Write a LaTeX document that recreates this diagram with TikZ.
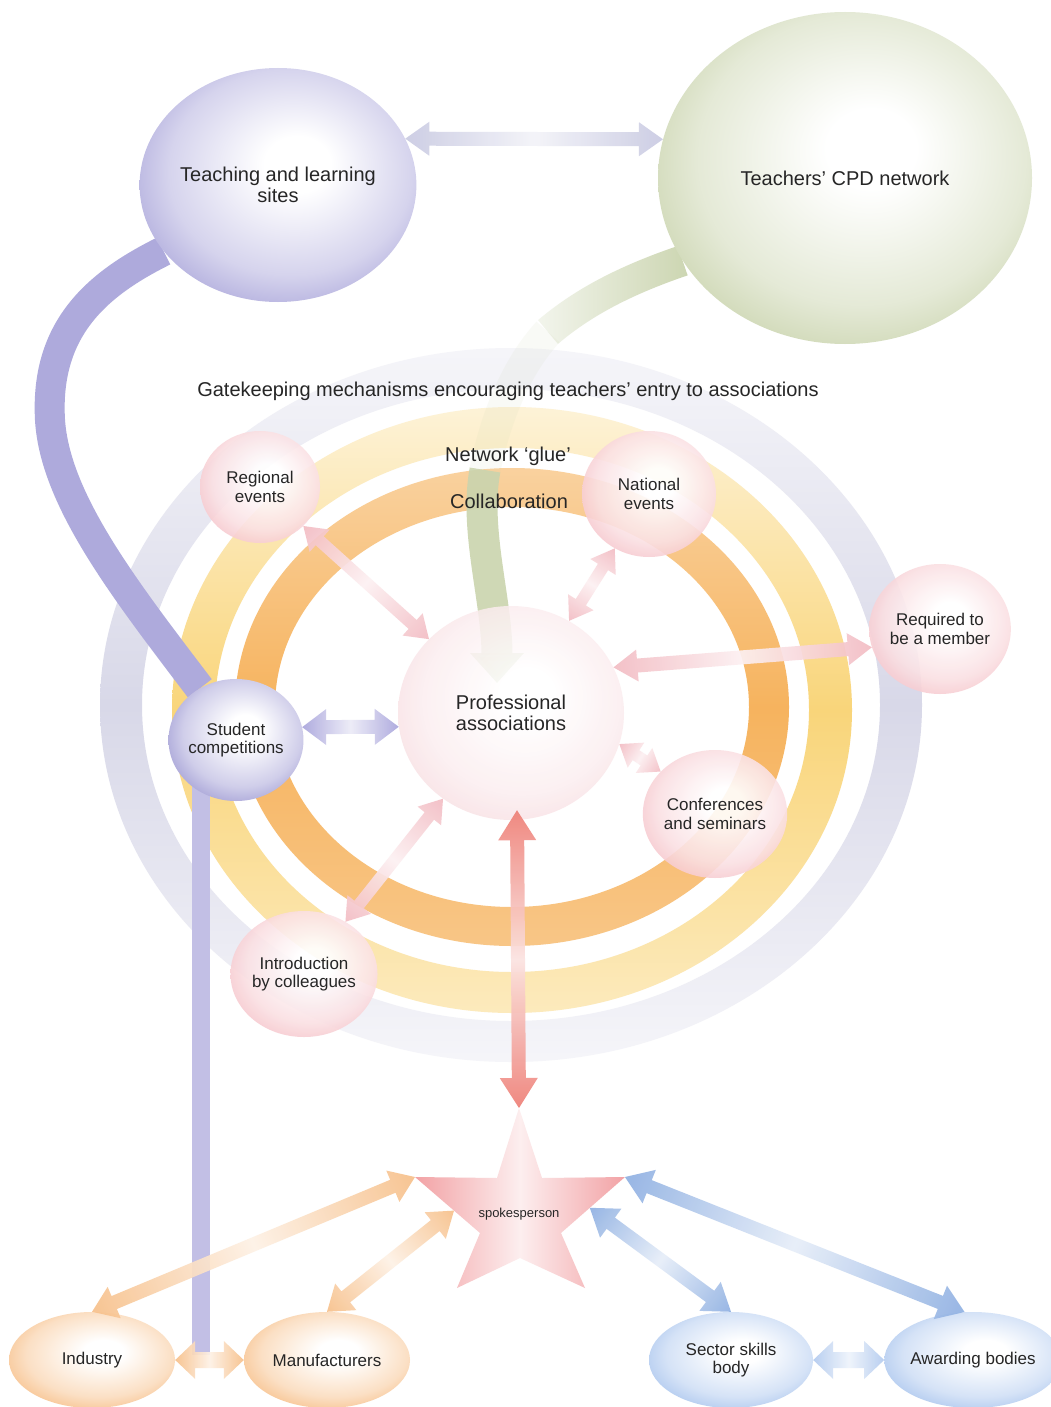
\documentclass[tikz,border=0pt]{standalone}
\usepackage{fontspec}
\setmainfont{Liberation Sans}
\usetikzlibrary{shapes.geometric,calc,arrows.meta,fadings}

\definecolor{ink}{HTML}{262626}
\definecolor{lav}{HTML}{ACA8DB}
\definecolor{lavdeep}{HTML}{A09CD4}
\definecolor{lavtube}{HTML}{AEAADC}
\definecolor{sage}{HTML}{CAD4AE}
\definecolor{pinkn}{HTML}{F6C2C8}
\definecolor{palep}{HTML}{F8DCE0}
\definecolor{peach}{HTML}{F7C08A}
\definecolor{skyb}{HTML}{ABC6EE}
\definecolor{salmon}{HTML}{EE7F76}
\definecolor{starpink}{HTML}{F2A2A5}
\definecolor{ringgrey}{HTML}{D8D8E8}
\definecolor{ringyel}{HTML}{F9D57A}
\definecolor{ringorg}{HTML}{F6B35E}
\definecolor{pinkarr}{HTML}{F3BCC3}
\definecolor{lavarr}{HTML}{A9A5DC}
\definecolor{greyarr}{HTML}{C9CAE2}
\definecolor{bluearr}{HTML}{8FB0E2}
\definecolor{paleblue}{HTML}{B3CBEF}

\pgfdeclarelayer{rings}
\pgfdeclarelayer{tubes}
\pgfsetlayers{rings,tubes,main}

% soft bubble shading, brightest a little up and to the right
\colorlet{bubcol}{white}
\pgfdeclareradialshading[bubcol]{bubble}{\pgfpoint{4bp}{5bp}}{%
  color(0bp)=(white); color(6bp)=(white); color(22bp)=(bubcol!50!white);
  color(31bp)=(bubcol); color(50bp)=(bubcol)}

\tikzfading[name=fadeleft, left color=transparent!80, right color=transparent!0]

% double-headed block arrow between two named points
% #1 start, #2 end, #3 colour, #4 half shaft, #5 half head, #6 head length
\newcommand\fatarrow[6]{%
  \path let \p1=(#1), \p2=(#2) in \pgfextra{%
    \pgfmathsetmacro\arrlen{veclen(\x2-\x1,\y2-\y1)}%
    \pgfmathsetmacro\arrang{atan2(\y2-\y1,\x2-\x1)}%
    \xdef\arrlen{\arrlen}\xdef\arrang{\arrang}};
  \begin{scope}[transform canvas={shift={(#1)},rotate=\arrang}]
    \shade[left color=#3, right color=#3, middle color=#3!22!white, fill opacity=0.92]
      (0,0) -- (#6,#5) -- (#6,#4) -- (\arrlen-#6,#4) -- (\arrlen-#6,#5) -- (\arrlen,0)
      -- (\arrlen-#6,-#5) -- (\arrlen-#6,-#4) -- (#6,-#4) -- (#6,-#5) -- cycle;
  \end{scope}}

\begin{document}
\begin{tikzpicture}[x=1pt,y=-1pt,
  bigtxt/.style={font=\fontsize{20}{21.5}\selectfont},
  smalltxt/.style={font=\fontsize{17}{18.5}\selectfont},
  bubcolor/.code={\colorlet{bubcol}{#1}},
  bub/.style={ellipse, inner sep=0pt, align=center, text=ink, shade, shading=bubble, bubcolor=#1},
  lbl/.style={inner sep=0pt, text=ink, bigtxt},
]
\useasboundingbox (0,0) rectangle (1051,1407);

% ---- nodes ----
\node[bub=lav, minimum width=260pt, minimum height=234pt, bigtxt] (teach) at (278,185) {Teaching and learning\\sites};
\node[bub=sage, minimum width=374pt, minimum height=332pt, bigtxt] (cpd) at (845,178) {Teachers’ CPD network};

\node[bub=pinkn, minimum width=120pt, minimum height=112pt, smalltxt, fill opacity=0.9, text opacity=1] (reg) at (260,487) {Regional\\events};
\node[bub=pinkn, minimum width=134pt, minimum height=126pt, smalltxt, fill opacity=0.9, text opacity=1] (nat) at (649,494) {National\\events};
\node[bub=palep, minimum width=226pt, minimum height=214pt, bigtxt, fill opacity=0.85, text opacity=1] (pa) at (511,713) {Professional\\associations};
\node[bub=pinkn, minimum width=136pt, minimum height=130pt, smalltxt, fill opacity=0.9, text opacity=1] (req) at (940,629) {Required to\\be a member};
\node[bub=pinkn, minimum width=132pt, minimum height=128pt, smalltxt, fill opacity=0.9, text opacity=1] (conf) at (715,814) {Conferences\\and seminars};
\node[bub=pinkn, minimum width=136pt, minimum height=126pt, smalltxt, fill opacity=0.9, text opacity=1] (intro) at (304,974) {Introduction\\by colleagues};
\node[bub=lavdeep, minimum width=134pt, minimum height=122pt, smalltxt] (stud) at (236,740) {Student\\competitions};

\node[bub=peach, minimum width=166pt, minimum height=96pt, smalltxt] (ind) at (92,1360) {Industry};
\node[bub=peach, minimum width=166pt, minimum height=96pt, smalltxt] (man) at (327,1360) {Manufacturers};
\node[bub=skyb, minimum width=164pt, minimum height=96pt, smalltxt] (sec) at (731,1360) {Sector skills\\body};
\node[bub=skyb, minimum width=164pt, minimum height=96pt, smalltxt] (awd) at (973,1360) {Awarding bodies};

% ---- spokesperson star ----
\coordinate (st1) at (519,1108);
\coordinate (st2) at (542,1178);
\coordinate (st3) at (625,1177);
\coordinate (st4) at (561,1233);
\coordinate (st5) at (585,1288);
\coordinate (st6) at (520,1258);
\coordinate (st7) at (457,1288);
\coordinate (st8) at (480,1233);
\coordinate (st9) at (415,1177);
\coordinate (st10) at (497,1178);
\shade[left color=starpink, right color=starpink, middle color=starpink!18!white]
  (st1) -- (st2) -- (st3) -- (st4) -- (st5) -- (st6) -- (st7) -- (st8) -- (st9) -- (st10) -- cycle;
\node[inner sep=0pt, text=ink, font=\fontsize{13}{14}\selectfont] (spk) at (519,1214) {spokesperson};

% ---- free labels ----
\node[lbl] (gate) at (508,391) {Gatekeeping mechanisms encouraging teachers’ entry to associations};
\node[lbl] (glue) at (508,456) {Network ‘glue’};
\node[lbl] (collab) at (509,501) {Collaboration};

% ---- rings ----
\begin{pgfonlayer}{rings}
  \fill[white] (0,0) rectangle (1051,1407);
  \shade[even odd rule, top color=ringgrey!25!white, bottom color=ringgrey!25!white, middle color=ringgrey]
    (511,705) ellipse [x radius=411pt, y radius=357pt]
    (511,705) ellipse [x radius=369pt, y radius=316pt];
  \shade[even odd rule, top color=ringyel!30!white, bottom color=ringyel!50!white, middle color=ringyel]
    (512,710) ellipse [x radius=340pt, y radius=303pt]
    (512,710) ellipse [x radius=297pt, y radius=262pt];
  \shade[even odd rule, top color=ringorg!60!white, bottom color=ringorg!75!white, middle color=ringorg]
    (512,707) ellipse [x radius=277pt, y radius=239pt]
    (512,707) ellipse [x radius=237pt, y radius=200pt];
\end{pgfonlayer}

% ---- tubes ----
\coordinate (bandend) at (201,1355);
\coordinate (gA) at (548,332);
\coordinate (gB) at (485,470);
\coordinate (gtip) at ($(pa.center)+(-14,-30)$);
\begin{pgfonlayer}{tubes}
  \draw[line width=30pt, lavtube] (teach.210) .. controls (95,285) and (45,330) .. (50,420)
    .. controls (55,500) and (125,590) .. (stud.125);
  \draw[line width=18pt, lavtube!75!white] ($(stud.center)+(-35,20)$) -- (bandend);
  \draw[line width=31pt, sage, path fading=fadeleft] (cpd.207) .. controls (620,282) and (580,305) .. (gA);
  \draw[line width=31pt, sage, opacity=0.1] (gA) .. controls (515,368) and (495,420) .. (gB);
  \draw[line width=31pt, sage, opacity=0.9, -{Triangle[width=52pt,length=30pt]}]
    (gB) .. controls (474,530) and (497,600) .. (gtip);
\end{pgfonlayer}

% ---- connectors ----
\path (reg) -- (pa) coordinate[pos=0] (regA) coordinate[pos=1] (regB);
\path (nat) -- (pa) coordinate[pos=0] (natA) coordinate[pos=1] (natB);
\path (intro) -- (pa) coordinate[pos=0] (intA) coordinate[pos=1] (intB);
\coordinate (paBot) at ($(pa.south)+(6,-10)$);
\coordinate (sMan) at ($(st9)!0.6!(st8)$);
\coordinate (sSec) at ($(st3)!0.55!(st4)$);

\fatarrow{teach.20}{cpd.168}{greyarr}{7}{17}{24}
\fatarrow{regA}{regB}{pinkarr}{6}{15}{22}
\fatarrow{natA}{natB}{pinkarr}{6}{15}{22}
\fatarrow{intA}{intB}{pinkarr}{6}{15}{22}
\fatarrow{req.195}{pa.24}{pinkarr}{7}{16}{24}
\fatarrow{pa.-16}{conf.142}{pinkarr}{6}{15}{20}
\fatarrow{stud.11}{pa.187}{lavarr}{7}{18}{24}
\fatarrow{paBot}{st1}{salmon}{7}{19}{30}
\fatarrow{st9}{ind.north}{peach}{7}{17}{24}
\fatarrow{sMan}{man.north}{peach}{7}{17}{24}
\fatarrow{sSec}{sec.north}{bluearr}{7}{18}{26}
\fatarrow{st3}{awd.100}{bluearr}{7}{18}{26}
\fatarrow{ind.east}{man.west}{peach}{8}{19}{20}
\fatarrow{sec.east}{awd.west}{paleblue}{8}{19}{20}
\end{tikzpicture}
\end{document}
